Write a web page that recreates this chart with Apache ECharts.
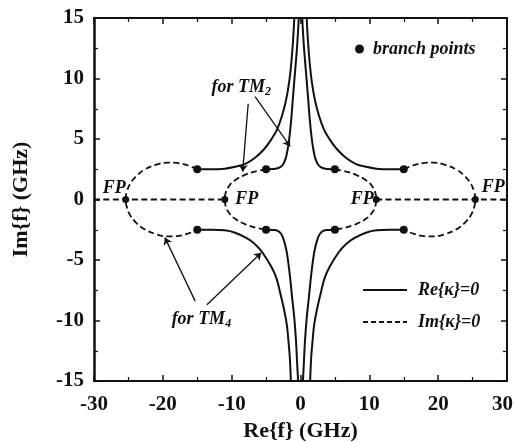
<!DOCTYPE html>
<html>
<head>
<meta charset="utf-8">
<script src="https://cdn.jsdelivr.net/npm/echarts@6/dist/echarts.min.js"></script>
<style>
  html, body { margin: 0; padding: 0; background: #fff; }
  #chart { width: 515px; height: 442px; }
</style>
</head>
<body>
<div id="chart"></div>
<script>
// axis ticks (GHz)
const xTicks = [-30, -20, -10, 0, 10, 20, 30];
const yTicks = [-15, -10, -5, 0, 5, 10, 15];

// branch points [Re, Im]
const branchRe = [-15, -5, 5, 15, -15, -5, 5, 15];
const branchIm = [2.5, 2.5, 2.5, 2.5, -2.5, -2.5, -2.5, -2.5];

// FP points on the real axis
const fpRe = [-25.4, -11, 11, 25.4];
const fpIm = [0, 0, 0, 0];

// Re{k}=0, outer curves (TM4)
const tm4UpperLeft = [[-15, 2.5], [-13, 2.5], [-11, 2.55], [-9.5, 2.7], [-8, 2.95], [-6.6, 3.45], [-5.3, 4.15], [-4.2, 5.0], [-3.4, 5.8], [-2.7, 6.9], [-2.1, 8.2], [-1.65, 9.7], [-1.35, 11.2], [-1.1, 13], [-0.9, 15]];
const tm4UpperRight = [[15, 2.5], [13, 2.5], [11, 2.55], [9.5, 2.7], [8, 2.95], [6.6, 3.45], [5.3, 4.15], [4.2, 5.0], [3.4, 5.8], [2.7, 6.9], [2.1, 8.2], [1.65, 9.7], [1.35, 11.2], [1.1, 13], [0.9, 15]];
const tm4LowerLeft = [[-15, -2.5], [-13, -2.5], [-11, -2.55], [-9.5, -2.75], [-7.8, -3.2], [-6.6, -3.7], [-5.5, -4.4], [-4.2, -5.6], [-3.5, -6.5], [-3, -7.6], [-2.5, -8.8], [-2, -10.3], [-1.75, -11.7], [-1.55, -13.1], [-1.4, -15]];
const tm4LowerRight = [[15, -2.5], [13, -2.5], [11, -2.55], [9.5, -2.75], [7.8, -3.2], [6.6, -3.7], [5.5, -4.4], [4.2, -5.6], [3.5, -6.5], [3, -7.6], [2.5, -8.8], [2, -10.3], [1.75, -11.7], [1.55, -13.1], [1.4, -15]];

// Re{k}=0, inner curves (TM2)
const tm2UpperLeft = [[-5, 2.5], [-4, 2.52], [-3.2, 2.6], [-2.6, 2.85], [-2.15, 3.4], [-1.85, 4.2], [-1.6, 5.2], [-1.35, 6.6], [-1.1, 8.4], [-0.8, 10.5], [-0.5, 12.6], [-0.25, 15]];
const tm2UpperRight = [[5, 2.5], [4, 2.52], [3.2, 2.6], [2.6, 2.85], [2.15, 3.4], [1.85, 4.2], [1.6, 5.2], [1.35, 6.6], [1.1, 8.4], [0.8, 10.5], [0.5, 12.6], [0.25, 15]];
const tm2LowerLeft = [[-5, -2.5], [-4, -2.52], [-3.3, -2.6], [-2.8, -2.85], [-2.4, -3.4], [-2.05, -4.2], [-1.8, -5.1], [-1.5, -6.5], [-1.2, -8.2], [-0.9, -9.8], [-0.65, -11.7], [-0.5, -13.4], [-0.35, -15]];
const tm2LowerRight = [[5, -2.5], [4, -2.52], [3.3, -2.6], [2.8, -2.85], [2.4, -3.4], [2.05, -4.2], [1.8, -5.1], [1.5, -6.5], [1.2, -8.2], [0.9, -9.8], [0.65, -11.7], [0.5, -13.4], [0.35, -15]];

// Im{k}=0 loops
const tm4LoopLeft = [[-15, 2.5], [-16.5, 2.85], [-18, 3.02], [-19.3, 3.05], [-20.8, 2.9], [-22.7, 2.45], [-24, 1.85], [-24.8, 1.25], [-25.25, 0.6], [-25.4, 0], [-25.25, -0.6], [-24.8, -1.25], [-24, -1.85], [-22.7, -2.45], [-20.8, -2.9], [-19.3, -3.05], [-18, -3.02], [-16.5, -2.85], [-15, -2.5]];
const tm4LoopRight = [[15, 2.5], [16.5, 2.85], [18, 3.02], [19.3, 3.05], [20.8, 2.9], [22.7, 2.45], [24, 1.85], [24.8, 1.25], [25.25, 0.6], [25.4, 0], [25.25, -0.6], [24.8, -1.25], [24, -1.85], [22.7, -2.45], [20.8, -2.9], [19.3, -3.05], [18, -3.02], [16.5, -2.85], [15, -2.5]];
const tm2ArcLeft = [[-5, 2.5], [-6.5, 2.33], [-8, 2.05], [-9.5, 1.6], [-10.4, 1.1], [-10.9, 0.5], [-11, 0], [-10.9, -0.5], [-10.4, -1.1], [-9.5, -1.6], [-8, -2.05], [-6.5, -2.33], [-5, -2.5]];
const tm2ArcRight = [[5, 2.5], [6.5, 2.33], [8, 2.05], [9.5, 1.6], [10.4, 1.1], [10.9, 0.5], [11, 0], [10.9, -0.5], [10.4, -1.1], [9.5, -1.6], [8, -2.05], [6.5, -2.33], [5, -2.5]];
const realAxisLeft = [[-30, 0], [-11, 0]];
const realAxisRight = [[11, 0], [30, 0]];

// annotation arrows [from, to]
const tm2Arrows = [[[-7.6, 7.9], [-8.4, 2.3]], [[-6.6, 8.5], [-1.5, 4.4]]];
const tm4Arrows = [[[-15.3, -8.4], [-19.7, -3.15]], [[-13.6, -8.7], [-5.7, -4.4]]];
const tm2TextAt = [-8.6, 9.3];
const tm4TextAt = [-14.4, -9.9];

const chart = echarts.init(document.getElementById('chart'));
const serif = 'Liberation Serif';
const ink = '#111';

const labelFont = { fontFamily: serif, fontWeight: 'bold', fontSize: 21, color: ink };
const italicFont = { fontFamily: serif, fontWeight: 'bold', fontStyle: 'italic', fontSize: 18, color: ink };

function solid(data) {
  return {
    name: 'Re{κ}=0', type: 'line', data: data, symbol: 'none', smooth: 0.4,
    lineStyle: { color: ink, width: 2 }, itemStyle: { color: ink }, z: 3
  };
}
function dashed(data) {
  return {
    name: 'Im{κ}=0', type: 'line', data: data, symbol: 'none', smooth: 0.4,
    lineStyle: { color: ink, width: 1.8, type: [6, 3.5] }, itemStyle: { color: ink }, z: 3
  };
}

const fpLabelPos = [
  { position: [3.5, -8], align: 'right' },
  { position: [14, 3.5], align: 'left' },
  { position: [1, 3.5], align: 'right' },
  { position: [10, -9], align: 'left' }
];

const arrowLines = tm2Arrows.concat(tm4Arrows).map(a => [{ coord: a[0] }, { coord: a[1] }]);

const option = {
  backgroundColor: '#fff',
  animation: false,
  grid: { left: 94, right: 8, top: 18, bottom: 61, outerBoundsMode: 'none', containLabel: false },
  xAxis: [
    {
      type: 'value', min: xTicks[0], max: xTicks[xTicks.length - 1], interval: 10,
      name: 'Re{f} (GHz)', nameLocation: 'middle', nameGap: 37,
      nameTextStyle: { fontFamily: serif, fontWeight: 'bold', fontSize: 22, color: ink },
      axisLine: { onZero: false, lineStyle: { color: ink, width: 2 } },
      axisTick: { inside: true, length: 6, lineStyle: { color: ink, width: 1.5 } },
      minorTick: { show: true, splitNumber: 2, length: 4, lineStyle: { color: ink, width: 1.2 } },
      axisLabel: Object.assign({
        margin: 13,
        formatter: v => (v === xTicks[xTicks.length - 1] ? '{r|' + v + '}' : String(v)),
        rich: { r: Object.assign({ padding: [0, 9, 0, 0] }, labelFont) }
      }, labelFont),
      splitLine: { show: false }
    },
    {
      type: 'value', position: 'top', min: xTicks[0], max: xTicks[xTicks.length - 1], interval: 10,
      axisLine: { onZero: false, lineStyle: { color: ink, width: 2 } },
      axisTick: { inside: true, length: 6, lineStyle: { color: ink, width: 1.5 } },
      minorTick: { show: true, splitNumber: 2, length: 4, lineStyle: { color: ink, width: 1.2 } },
      axisLabel: { show: false }, splitLine: { show: false }
    }
  ],
  yAxis: [
    {
      type: 'value', min: yTicks[0], max: yTicks[yTicks.length - 1], interval: 5,
      name: 'Im{f} (GHz)', nameLocation: 'middle', nameGap: 62,
      nameTextStyle: { fontFamily: serif, fontWeight: 'bold', fontSize: 22, color: ink },
      axisLine: { onZero: false, lineStyle: { color: ink, width: 2.5 } },
      axisTick: { inside: true, length: 6, lineStyle: { color: ink, width: 1.5 } },
      minorTick: { show: true, splitNumber: 2, length: 4, lineStyle: { color: ink, width: 1.2 } },
      axisLabel: Object.assign({ margin: 10 }, labelFont),
      splitLine: { show: false }
    },
    {
      type: 'value', position: 'right', min: yTicks[0], max: yTicks[yTicks.length - 1], interval: 5,
      axisLine: { onZero: false, lineStyle: { color: ink, width: 2 } },
      axisTick: { inside: true, length: 6, lineStyle: { color: ink, width: 1.5 } },
      minorTick: { show: true, splitNumber: 2, length: 4, lineStyle: { color: ink, width: 1.2 } },
      axisLabel: { show: false }, splitLine: { show: false }
    }
  ],
  legend: [
    {
      data: ['branch points'], left: 350, top: 35, icon: 'circle',
      itemWidth: 9, itemHeight: 9,
      itemStyle: { opacity: 1 },
      textStyle: Object.assign({ padding: [0, 0, 0, 4] }, italicFont)
    },
    {
      data: [
        { name: 'Re{κ}=0', icon: 'rect' },
        { name: 'Im{κ}=0', icon: 'path://M0,0h5v2h-5z M8,0h5v2h-5z M16,0h5v2h-5z M24,0h5v2h-5z M32,0h5v2h-5z M40,0h4v2h-4z' }
      ],
      orient: 'vertical', left: 358, top: 276,
      itemWidth: 44, itemHeight: 2, itemGap: 14,
      textStyle: Object.assign({ padding: [0, 0, 0, 6] }, italicFont)
    }
  ],
  series: [
    solid(tm4UpperLeft), solid(tm4UpperRight), solid(tm4LowerLeft), solid(tm4LowerRight),
    solid(tm2UpperLeft), solid(tm2UpperRight), solid(tm2LowerLeft), solid(tm2LowerRight),
    dashed(tm4LoopLeft), dashed(tm4LoopRight), dashed(tm2ArcLeft), dashed(tm2ArcRight),
    dashed(realAxisLeft), dashed(realAxisRight),
    {
      name: 'branch points', type: 'scatter', symbol: 'circle', symbolSize: 8,
      itemStyle: { color: ink, opacity: 1 }, z: 5,
      data: branchRe.map((re, i) => [re, branchIm[i]])
    },
    {
      name: 'FP', type: 'scatter', symbol: 'circle', symbolSize: 7,
      itemStyle: { color: ink, opacity: 1 }, z: 5,
      data: fpRe.map((re, i) => ({
        value: [re, fpIm[i]],
        label: Object.assign({ show: true, formatter: 'FP', verticalAlign: 'middle' }, italicFont, fpLabelPos[i])
      }))
    },
    {
      name: 'notes', type: 'scatter', data: [], silent: true,
      markLine: {
        silent: true, symbol: ['none', 'arrow'], symbolSize: 7,
        lineStyle: { color: ink, width: 1.3, type: 'solid' },
        label: { show: false },
        data: arrowLines
      },
      markPoint: {
        silent: true, symbol: 'circle', symbolSize: 0,
        label: {
          show: true, position: 'inside',
          rich: {
            a: Object.assign({ lineHeight: 22 }, italicFont),
            s: Object.assign({}, italicFont, { fontSize: 12, lineHeight: 10, verticalAlign: 'bottom' })
          }
        },
        data: [
          { coord: tm2TextAt, label: { formatter: '{a|for TM}{s|2}' } },
          { coord: tm4TextAt, label: { formatter: '{a|for TM}{s|4}' } }
        ]
      }
    }
  ]
};

chart.setOption(option);
</script>
</body>
</html>
